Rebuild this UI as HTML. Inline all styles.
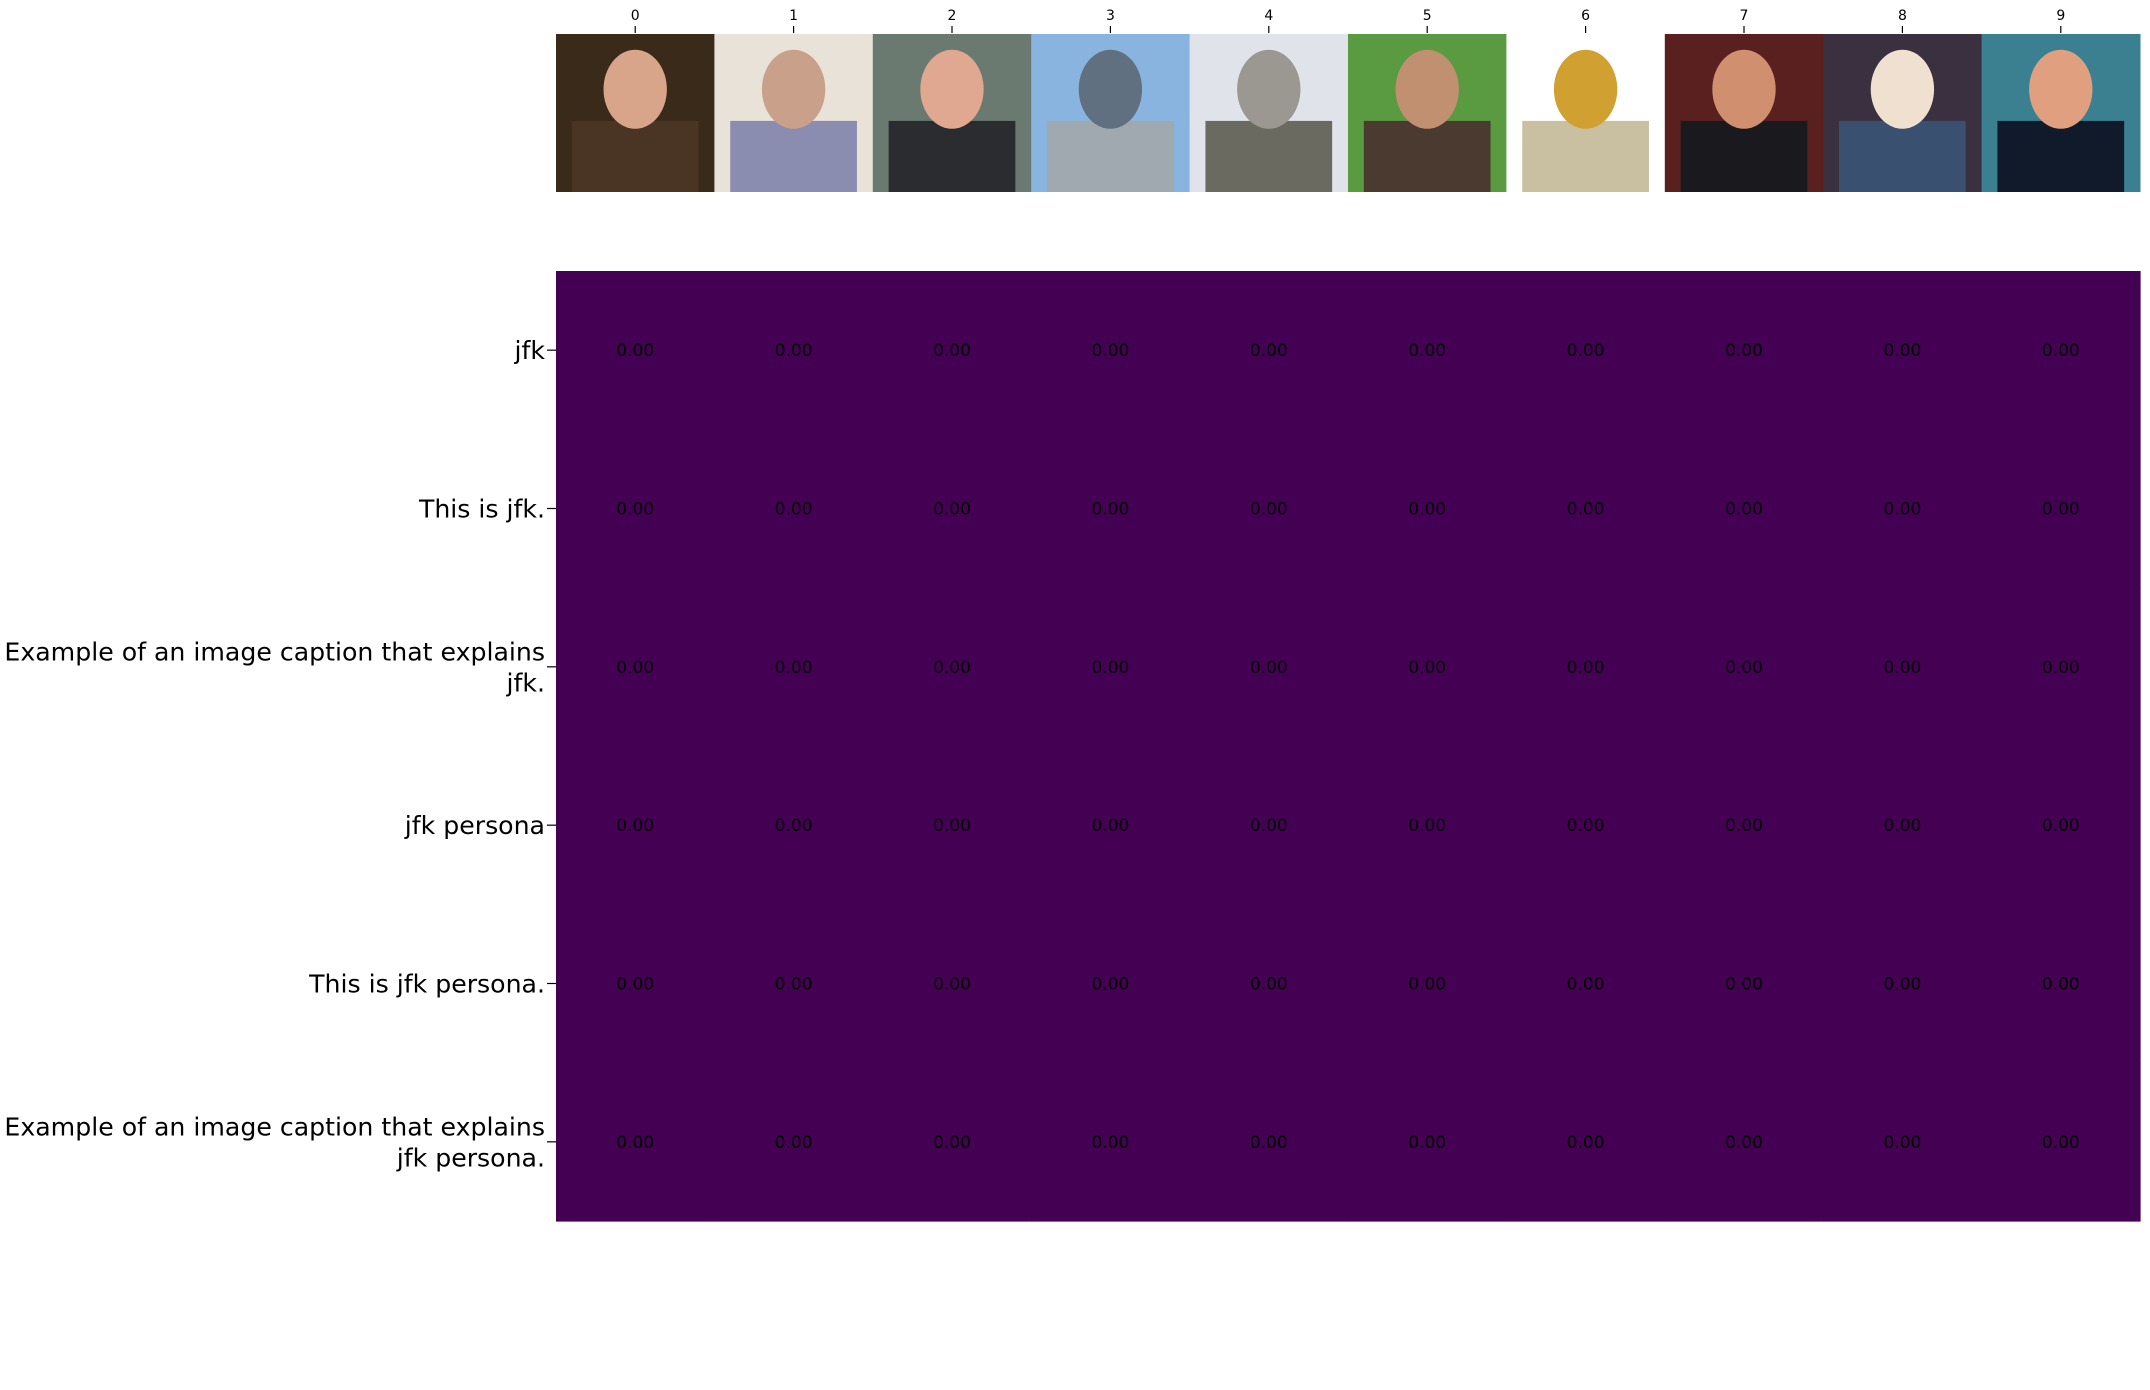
<!DOCTYPE html>
<html><head><meta charset="utf-8">
<style>
html,body{margin:0;padding:0;background:#fff;}
svg{display:block;font-family:"DejaVu Sans","Liberation Sans",sans-serif;}
</style></head>
<body>
<svg id="chart" width="2150" height="1390" viewBox="0 0 2150 1390" xmlns="http://www.w3.org/2000/svg">
<g id="imgs"></g>
<g id="heat"></g>
</svg>
<script>
const imageIndices = ["0","1","2","3","4","5","6","7","8","9"];
const captions = [["jfk"],["This is jfk."],["Example of an image caption that explains","jfk."],["jfk persona"],["This is jfk persona."],["Example of an image caption that explains","jfk persona."]];
const values = [
 [0,0,0,0,0,0,0,0,0,0],
 [0,0,0,0,0,0,0,0,0,0],
 [0,0,0,0,0,0,0,0,0,0],
 [0,0,0,0,0,0,0,0,0,0],
 [0,0,0,0,0,0,0,0,0,0],
 [0,0,0,0,0,0,0,0,0,0]
];
const NS="http://www.w3.org/2000/svg";
const L=556,R=2140,HT=271,HB=1221,IT=34,IB=192;
const cw=(R-L)/imageIndices.length, rh=(HB-HT)/captions.length;
const xC=i=>L+cw*(i+0.5), yC=j=>HT+rh*(j+0.5);
function mk(tag,attrs,parent){const e=document.createElementNS(NS,tag);for(const k in attrs)e.setAttribute(k,attrs[k]);parent.appendChild(e);return e;}
function viridis(t){const s=[[68,1,84],[59,82,139],[33,145,140],[94,201,98],[253,231,37]];t=Math.max(0,Math.min(1,t))*4;const i=Math.min(3,Math.floor(t)),f=t-i;return `rgb(${s[i].map((c,k)=>Math.round(c+(s[i+1][k]-c)*f)).join(',')})`;}
const bg=[["#3a2a1a","#4a3424","#d9a58a"],["#e8e2d8","#8a8cb0","#c9a08a"],["#6a7a70","#2a2c30","#e0a890"],["#8ab4e0","#a0a8b0","#607080"],["#e0e4ea","#6a6a60","#9a9890"],["#5a9a40","#4a3a30","#c09070"],["#ffffff","#c8c0a0","#d0a030"],["#5a2020","#1a1a1e","#d09070"],["#3a3040","#3a5070","#f0e0d0"],["#3a8090","#111a2a","#e0a080"]];
const imgs=document.getElementById('imgs');
imageIndices.forEach((lab,i)=>{
 const x0=L+cw*i, g=mk('g',{},imgs);
 
 
 const c=bg[i];
 mk('rect',{x:x0,y:IT,width:cw+0.5,height:IB-IT,fill:c[0]},g);
 mk('rect',{x:x0+cw*0.1,y:IT+(IB-IT)*0.55,width:cw*0.8,height:(IB-IT)*0.45,fill:c[1]},g);
 mk('ellipse',{cx:x0+cw/2,cy:IT+(IB-IT)*0.35,rx:cw*0.2,ry:(IB-IT)*0.25,fill:c[2]},g);
 const t=mk('text',{x:xC(i),y:20,'font-size':14,'text-anchor':'middle',fill:'#000'},imgs);
 t.textContent=lab;
 
 
 mk('line',{x1:xC(i),x2:xC(i),y1:26,y2:33,stroke:'#000','stroke-width':1.2},imgs);
});
const heat=document.getElementById('heat');
captions.forEach((cap,j)=>{
 values[j].forEach((v,i)=>{
  const r=mk('rect',{x:L+cw*i,y:HT+rh*j,width:cw+0.6,height:rh+0.6,fill:viridis(v)},heat);
  
  
  const t=mk('text',{x:xC(i),y:yC(j)+6,'font-size':17,'text-anchor':'middle',fill:'#000'},heat);
  t.textContent=v.toFixed(2);
  
  
 });
 mk('line',{x1:547,x2:556,y1:yC(j),y2:yC(j),stroke:'#000','stroke-width':1.2},heat);
 const n=cap.length, lh=31;
 const t=mk('text',{x:545,'font-size':25.2,'text-anchor':'end',fill:'#000'},heat);
 
 
 cap.forEach((line,k)=>{
  const ts=mk('tspan',{x:545,y:yC(j)+9+(k-(n-1)/2)*lh},t);
  ts.textContent=line;
 });
});
</script>
</body></html>
